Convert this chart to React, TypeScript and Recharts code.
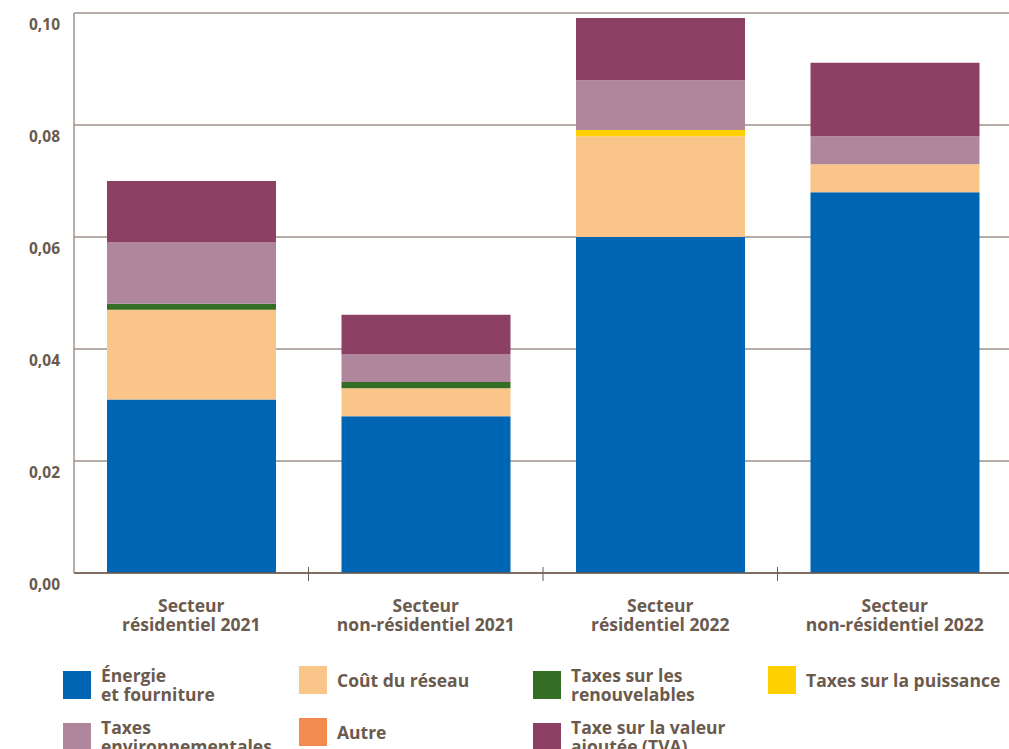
import { BarChart, Bar, XAxis, YAxis, CartesianGrid } from "recharts";

const CATEGORIES = [
  ["Secteur", "résidentiel 2021"],
  ["Secteur", "non-résidentiel 2021"],
  ["Secteur", "résidentiel 2022"],
  ["Secteur", "non-résidentiel 2022"],
];

const ENERGIE = [0.031, 0.028, 0.06, 0.068];
const RESEAU = [0.016, 0.005, 0.018, 0.005];
const RENOUVELABLES = [0.0011, 0.0011, 0, 0];
const PUISSANCE = [0, 0, 0.0011, 0];
const ENVIRONNEMENT = [0.011, 0.005, 0.0089, 0.005];
const AUTRE = [0, 0, 0, 0];
const TVA = [0.0109, 0.007, 0.0111, 0.0131];

const Y_TICKS = [0, 0.02, 0.04, 0.06, 0.08, 0.1];

const SERIES = [
  { key: "energie", label: ["Énergie", "et fourniture"], color: "#0066b3", values: ENERGIE },
  { key: "reseau", label: ["Coût du réseau"], color: "#f9c589", values: RESEAU },
  { key: "renouv", label: ["Taxes sur les", "renouvelables"], color: "#346e25", values: RENOUVELABLES },
  { key: "puissance", label: ["Taxes sur la puissance"], color: "#ffd000", values: PUISSANCE },
  { key: "env", label: ["Taxes", "environnementales"], color: "#b0869c", values: ENVIRONNEMENT },
  { key: "autre", label: ["Autre"], color: "#f28c4e", values: AUTRE },
  { key: "tva", label: ["Taxe sur la valeur", "ajoutée (TVA)"], color: "#8c4063", values: TVA },
];

const data = CATEGORIES.map((c, i) => {
  const row: Record<string, any> = { name: c.join(" "), lines: c };
  SERIES.forEach((s) => (row[s.key] = s.values[i]));
  return row;
});

const TEXT = "#6b5a4e";
const FONT = "'Open Sans', sans-serif";
const GRID = "#a09188";

const YTick = ({ x, y, payload }: any) => (
  <text x={x - 6} y={y + 17} textAnchor="end" fill={TEXT} fontSize={15.5} fontWeight={700} fontFamily={FONT}>
    {payload.value.toFixed(2).replace(".", ",")}
  </text>
);

const XTick = ({ x, y, payload, index }: any) => {
  const lines = CATEGORIES[index] || [];
  const half = payload.offset || 117;
  return (
    <g>
      {index < CATEGORIES.length - 1 && (
        <line x1={x + half} x2={x + half} y1={y - 14} y2={y} stroke={TEXT} strokeWidth={1} />
      )}
      {lines.map((l, i) => (
        <text key={i} x={x} y={y + 31 + i * 18.5} textAnchor="middle" fill={TEXT} fontSize={17.5} fontWeight={700} fontFamily={FONT}>
          {l}
        </text>
      ))}
    </g>
  );
};

const LEGEND_COLS = [63, 299, 533, 768];

export default function App() {
  return (
    <div style={{ position: "absolute", left: 0, top: 0, width: 1009, height: 749, background: "#fff", overflow: "hidden" }}>
      <BarChart width={1012} height={640} data={data} margin={{ top: 13, right: 0, bottom: 0, left: 0 }} barSize={169}>
        <CartesianGrid vertical={false} stroke={GRID} strokeWidth={1.5} />
        <XAxis
          dataKey="name"
          height={67}
          tick={<XTick />}
          tickLine={false}
          axisLine={{ stroke: TEXT, strokeWidth: 1.5 }}
          interval={0}
        />
        <YAxis
          width={74}
          domain={[0, 0.1]}
          ticks={Y_TICKS}
          tick={<YTick />}
          tickLine={false}
          axisLine={{ stroke: GRID, strokeWidth: 1.5 }}
          interval={0}
        />
        {SERIES.map((s) => (
          <Bar key={s.key} dataKey={s.key} stackId="a" fill={s.color} isAnimationActive={false} />
        ))}
      </BarChart>
      {SERIES.map((s, i) => {
        const col = i < 4 ? i : i - 4;
        const row = i < 4 ? 0 : 1;
        const left = LEGEND_COLS[col];
        const top = 666 + row * 52;
        return (
          <div key={s.key} style={{ position: "absolute", left, top, display: "flex", alignItems: "center" }}>
            <span style={{ width: 28, height: 28, background: s.color, display: "inline-block", flexShrink: 0 }} />
            <div
              style={{
                marginLeft: 10,
                color: TEXT,
                fontFamily: FONT,
                fontWeight: 700,
                fontSize: 17.5,
                lineHeight: "19px",
                whiteSpace: "nowrap",
              }}
            >
              {s.label.map((l, j) => (
                <div key={j}>{l}</div>
              ))}
            </div>
          </div>
        );
      })}
    </div>
  );
}
